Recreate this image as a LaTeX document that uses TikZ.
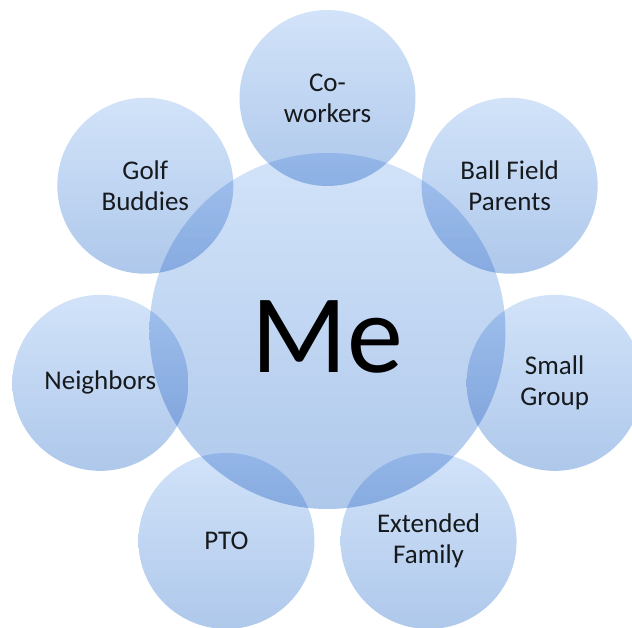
\documentclass[tikz,border=0pt]{standalone}
\usepackage{fontspec}
\setmainfont{Carlito}
\definecolor{bubtop}{HTML}{D2E3F9}
\definecolor{bubbot}{HTML}{AEC8EB}
\tikzset{
  bubble/.style={circle, inner sep=0pt, minimum size=176pt, align=center,
    top color=bubtop, bottom color=bubbot, draw=none, blend mode=multiply,
    text=black!88, font=\fontsize{27}{31}\selectfont},
  hub/.style={bubble, minimum size=356pt, text=black, font=\fontsize{112}{112}\selectfont}
}

\begin{document}
\begin{tikzpicture}[x=1pt,y=1pt]
                \clip (-327.5,-297) rectangle (304.5,331);
                \fill[white] (-327.5,-297) rectangle (304.5,331);
                % centre
                \node[hub] (me) at (0,0) {\raisebox{-6pt}[\height][0pt]{Me}};
                % ring of seven
                \node[bubble] (coworkers) at (90:233) {Co-\\workers};
                \node[bubble] (golf) at (141.43:233) {Golf\\Buddies};
                \node[bubble] (neighbors) at (192.86:233) {Neighbors};
                \node[bubble] (pto) at (244.29:233) {PTO};
                \node[bubble] (family) at (295.71:233) {Extended\\Family};
                \node[bubble] (group) at (347.14:233) {Small\\Group};
                \node[bubble] (ballfield) at (38.57:233) {Ball Field\\Parents};
\end{tikzpicture}
\end{document}
